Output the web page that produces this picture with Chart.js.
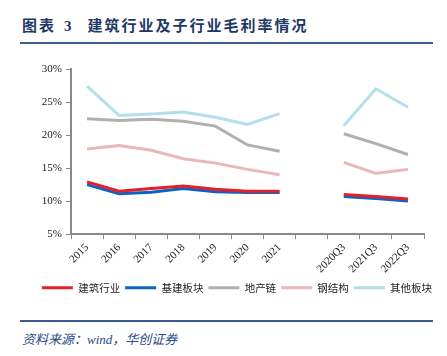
<!DOCTYPE html>
<html><head><meta charset="utf-8">
<script src="https://cdn.jsdelivr.net/npm/chart.js@4"></script>
<style>
html,body{margin:0;padding:0;background:#fff;width:447px;height:356px;overflow:hidden;position:relative;font-family:"Noto Sans CJK SC",sans-serif}
#title{position:absolute;left:22px;top:14px;font-size:15px;font-weight:bold;color:#1F3864;letter-spacing:2px;white-space:nowrap}
#title .n{font-family:"Liberation Serif",serif;margin:0 14px 0 8px}
.rule{position:absolute;left:20px;width:413px;height:2px;background:#3B5B93}
#src{position:absolute;left:22px;top:329px;font-size:13px;font-style:italic;color:#2A4A88;white-space:nowrap}
#src .w{font-family:"Liberation Serif",serif}
#box{position:absolute;left:0;top:52px;width:447px;height:255px}
</style></head><body>
<div id="title">图表<span class="n">3</span>建筑行业及子行业毛利率情况</div>
<div class="rule" style="top:42px"></div>
<div id="box"><canvas id="c"></canvas></div>
<div class="rule" style="top:320px"></div>
<div id="src">资料来源：<span class="w">wind</span>，华创证券</div>
<script>
const categories = ["2015","2016","2017","2018","2019","2020","2021","","2020Q3","2021Q3","2022Q3"];
const construction = [12.9,11.5,11.9,12.3,11.8,11.5,11.5,null,11.0,10.7,10.3];
const infrastructure = [12.5,11.1,11.35,11.9,11.4,11.3,11.3,null,10.7,10.4,10.0];
const realEstate = [22.45,22.2,22.4,22.1,21.35,18.5,17.55,null,20.2,18.7,17.05];
const steel = [17.9,18.4,17.7,16.4,15.75,14.8,14.0,null,15.85,14.2,14.8];
const other = [27.4,22.95,23.2,23.5,22.7,21.6,23.25,null,21.4,27.0,24.2];
const seriesNames = ["建筑行业","基建板块","地产链","钢结构","其他板块"];
const yTicks = [5,10,15,20,25,30];

const colors = ["#E3202A","#0B63C3","#B0B0B0","#EBB8B8","#B2DFEA"];
const values = [construction,infrastructure,realEstate,steel,other];
const datasets = values.map((d,i)=>({
  label: seriesNames[i], data: d, borderColor: colors[i], backgroundColor: colors[i],
  borderWidth: 3, pointRadius: 0, tension: 0, spanGaps: false, order: i
}));
const serif = "'Liberation Serif', 'Times New Roman', serif";
new Chart(document.getElementById('c'), {
  type: 'line',
  data: { labels: categories, datasets: datasets },
  options: {
    responsive: true, maintainAspectRatio: false, animation: false,
    layout: { padding: { left: 32, right: 5, top: 17, bottom: 4 } },
    plugins: {
      tooltip: { enabled: false },
      legend: {
        position: 'bottom',
        labels: {
          boxWidth: 31, boxHeight: 3, padding: 5, color: '#222',
          font: { family: "'Noto Sans CJK SC', sans-serif", size: 10.5 },
          generateLabels: chart => Chart.defaults.plugins.legend.labels.generateLabels(chart).map(l => Object.assign(l, { lineWidth: 0, strokeStyle: 'rgba(0,0,0,0)' }))
        }
      }
    },
    scales: {
      x: {
        offset: true,
        grid: { display: true, offset: true, drawOnChartArea: false, drawTicks: true, tickLength: 5, color: '#888', lineWidth: 1 },
        border: { display: true, color: '#888', width: 2 },
        ticks: { autoSkip: false, minRotation: 45, maxRotation: 45, color: '#222', padding: 2, font: { family: serif, size: 11 } }
      },
      y: {
        min: 5, max: 30,
        afterBuildTicks: s => { s.ticks = yTicks.map(v => ({ value: v })); },
        afterFit: s => { s.width = 39; },
        grid: { display: true, drawOnChartArea: false, drawTicks: true, tickLength: 5, color: '#888' },
        border: { display: true, color: '#888', width: 2 },
        ticks: { color: '#222', padding: 4, font: { family: serif, size: 11 }, callback: v => v + '%' }
      },
      y2: {
        position: 'right', display: true,
        afterFit: s => { s.width = 18; },
        grid: { display: false }, border: { display: false }, ticks: { display: false }
      }
    }
  }
});
</script>
</body></html>
